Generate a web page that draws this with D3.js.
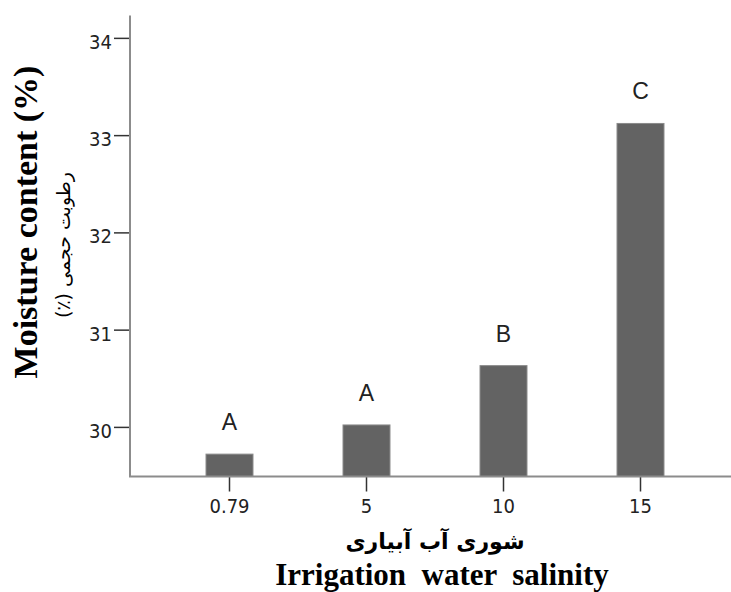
<!DOCTYPE html>
<html>
<head>
<meta charset="utf-8">
<script src="https://cdn.jsdelivr.net/npm/d3@7"></script>
<style>
  body { margin: 0; background: #fff; }
  svg { display: block; }
  .tick text { font-family: "DejaVu Sans Condensed", "DejaVu Sans", sans-serif; font-stretch: condensed; font-size: 20px; fill: #222; }
</style>
</head>
<body>
<svg id="chart" width="731" height="592"></svg>
<script>
const salinity = ["0.79", "5", "10", "15"];
const moisture = [29.72, 30.02, 30.63, 33.12];
const groups = ["A", "A", "B", "C"];
const yTicks = [30, 31, 32, 33, 34];

const width = 731;
const height = 592;
const margin = { top: 15.5, left: 130, bottom: 476.5 };

const svg = d3.select("#chart");

const xScale = d3
  .scaleBand()
  .domain(salinity)
  .range([161, 709])
  .paddingInner(0.657)
  .paddingOuter(0.657 / 2);

const yScale = d3
  .scaleLinear()
  .domain([29.49, 34.23])
  .range([margin.bottom, margin.top]);

// bars
svg
  .selectAll(".bar")
  .data(moisture)
  .enter()
  .append("rect")
  .classed("bar", true)
  .attr("x", (d, i) => xScale(salinity[i]))
  .attr("y", (d) => yScale(d))
  .attr("width", xScale.bandwidth())
  .attr("height", (d) => yScale.range()[0] - yScale(d))
  .attr("fill", "#636363")
  .attr("stroke", "#8a8a8a")
  .attr("stroke-width", 1);

// group letters
svg
  .selectAll(".group")
  .data(moisture)
  .enter()
  .append("text")
  .classed("group", true)
  .attr("x", (d, i) => xScale(salinity[i]) + xScale.bandwidth() / 2)
  .attr("y", (d) => yScale(d) - 24)
  .attr("text-anchor", "middle")
  .style("font-family", "'Liberation Sans', Arial, sans-serif")
  .style("font-size", "23px")
  .style("fill", "#222")
  .text((d, i) => groups[i]);

// y axis
const yAxis = svg
  .append("g")
  .attr("transform", `translate(${margin.left},0)`)
  .call(
    d3
      .axisLeft(yScale)
      .tickValues(yTicks)
      .tickFormat(d3.format("d"))
      .tickSize(16)
      .tickPadding(2)
  );
yAxis.select(".domain").remove();
yAxis.selectAll(".tick line").attr("stroke", "#333").attr("stroke-width", 1.5);
yAxis.selectAll(".tick text").attr("dy", "0.52em");

// x axis
const xAxis = svg
  .append("g")
  .attr("transform", `translate(0,${margin.bottom})`)
  .call(d3.axisBottom(xScale).tickSize(15).tickPadding(7));
xAxis.select(".domain").remove();
xAxis.selectAll(".tick line").attr("stroke", "#333").attr("stroke-width", 1.5);

// axis lines
svg
  .append("line")
  .attr("x1", margin.left)
  .attr("x2", margin.left)
  .attr("y1", margin.top)
  .attr("y2", margin.bottom)
  .attr("stroke", "#8c8c8c")
  .attr("stroke-width", 2);
svg
  .append("line")
  .attr("x1", margin.left - 1)
  .attr("x2", width)
  .attr("y1", margin.bottom)
  .attr("y2", margin.bottom)
  .attr("stroke", "#8c8c8c")
  .attr("stroke-width", 2);

// y titles
svg
  .append("text")
  .text("Moisture content (%)")
  .attr("transform", "translate(37,222) rotate(-90)")
  .attr("text-anchor", "middle")
  .style("font-family", "'Liberation Serif', 'Times New Roman', serif")
  .style("font-weight", "bold")
  .style("font-size", "34px")
  .style("fill", "#000");

svg
  .append("text")
  .text("رطوبت حجمی (٪)")
  .attr("transform", "translate(70,245) rotate(-90)")
  .attr("text-anchor", "middle")
  .attr("direction", "rtl")
  .style("font-family", "'DejaVu Sans', sans-serif")
  .style("font-size", "19px")
  .style("fill", "#000");

// x titles
svg
  .append("text")
  .text("شوری آب آبیاری")
  .attr("x", 435)
  .attr("y", 549)
  .attr("text-anchor", "middle")
  .attr("direction", "rtl")
  .style("font-family", "'DejaVu Sans', sans-serif")
  .style("font-weight", "bold")
  .style("font-size", "22px")
  .style("fill", "#000");

svg
  .append("text")
  .text("Irrigation  water  salinity")
  .attr("x", 442)
  .attr("y", 585)
  .attr("text-anchor", "middle")
  .style("white-space", "pre")
  .style("font-family", "'Liberation Serif', 'Times New Roman', serif")
  .style("font-weight", "bold")
  .style("font-size", "31px")
  .style("fill", "#000");
</script>
</body>
</html>
